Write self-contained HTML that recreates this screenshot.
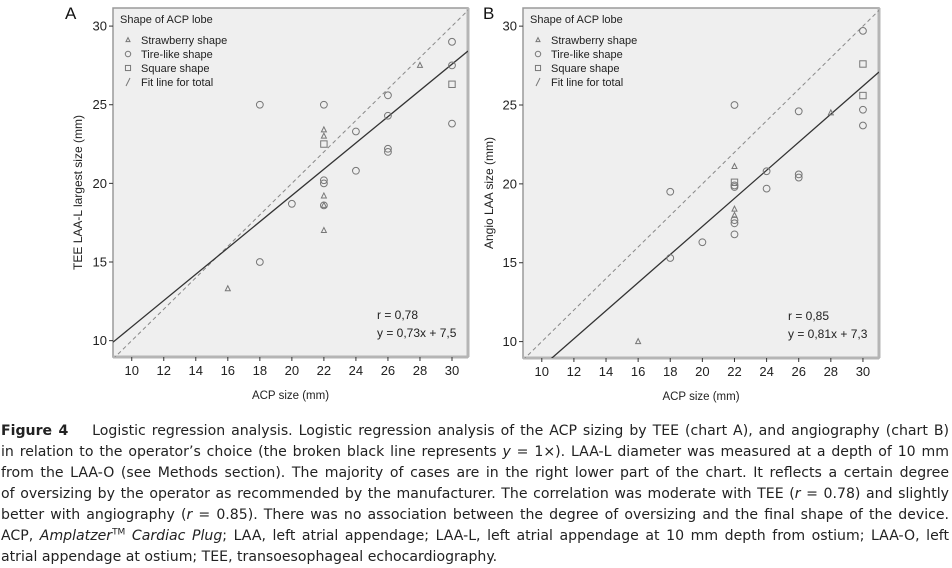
<!DOCTYPE html>
<html><head><meta charset="utf-8"><style>
body{margin:0;background:#fff;width:952px;height:566px;overflow:hidden;position:relative;font-family:"Liberation Sans",sans-serif}
svg{position:absolute;left:0;top:0;font-family:"Liberation Sans",Arial,sans-serif}
#cap{position:absolute;left:1px;top:421px;width:948px;font-family:"DejaVu Sans",sans-serif;font-size:14.1px;color:#222;line-height:21px}
#cap div{text-align:justify;text-align-last:justify;white-space:nowrap;height:21px}
#cap div.last{text-align-last:left}
</style></head><body>
<svg id="chart" width="952" height="410"></svg>
<div id="cap">
<div><b>Figure 4</b>&nbsp;&nbsp;&nbsp; Logistic regression analysis. Logistic regression analysis of the ACP sizing by TEE (chart A), and angiography (chart B)</div>
<div>in relation to the operator’s choice (the broken black line represents <i>y</i> = 1×). LAA-L diameter was measured at a depth of 10 mm</div>
<div>from the LAA-O (see Methods section). The majority of cases are in the right lower part of the chart. It reflects a certain degree</div>
<div>of oversizing by the operator as recommended by the manufacturer. The correlation was moderate with TEE (<i>r</i> = 0.78) and slightly</div>
<div>better with angiography (<i>r</i> = 0.85). There was no association between the degree of oversizing and the final shape of the device.</div>
<div>ACP, <i>Amplatzer</i><sup style="font-size:9px;line-height:0">TM</sup> <i>Cardiac Plug</i>; LAA, left atrial appendage; LAA-L, left atrial appendage at 10 mm depth from ostium; LAA-O, left</div>
<div class="last">atrial appendage at ostium; TEE, transoesophageal echocardiography.</div>
</div>
<script>
const xTicks=[10,12,14,16,18,20,22,24,26,28,30];
const yTicks=[10,15,20,25,30];
const aX=[16,18,18,20,22,22,22,22,22,22,22,22,22,22,24,24,26,26,26,26,28,30,30,30,30];
const aY=[13.3,25,15,18.7,25,23.4,23.0,22.5,20.2,20.0,19.2,18.6,18.6,17.0,23.3,20.8,25.6,24.3,22.2,22.0,27.5,29,27.5,26.3,23.8];
const aS=["t","c","c","c","c","t","t","s","c","c","t","c","t","t","c","c","c","c","c","c","t","c","c","s","c"];
const bX=[16,18,18,20,22,22,22,22,22,22,22,22,22,22,24,24,26,26,26,28,30,30,30,30,30];
const bY=[10,19.5,15.3,16.3,25,21.1,20.1,19.9,19.8,18.4,18.0,17.7,17.5,16.8,20.8,19.7,24.6,20.6,20.4,24.5,29.7,27.6,25.6,24.7,23.7];
const bS=["t","c","c","c","c","t","s","c","c","t","t","c","c","c","c","c","c","c","c","t","c","s","s","c","c"];
const fitA=[0.835,2.53];
const fitB=[0.89,-0.5];
const NS="http://www.w3.org/2000/svg";
const svg=document.getElementById('chart');
function mk(t,a,p){const e=document.createElementNS(NS,t);for(const k in a)e.setAttribute(k,a[k]);(p||svg).appendChild(e);return e;}
function sym(g,s,cx,cy,sc){let e;
  if(s==='c')e=mk('circle',{cx:cx,cy:cy,r:3.4*sc,fill:'none',stroke:'#777','stroke-width':1},g);
  else if(s==='s')e=mk('rect',{x:cx-3.2*sc,y:cy-3.2*sc,width:6.4*sc,height:6.4*sc,fill:'none',stroke:'#777','stroke-width':1},g);
  else if(s==='t')e=mk('polygon',{points:`${cx},${cy-3*sc} ${cx-2.5*sc},${cy+2*sc} ${cx+2.5*sc},${cy+2*sc}`,fill:'none',stroke:'#777','stroke-width':1},g);
  else e=mk('line',{x1:cx-2,y1:cy+4,x2:cx+2,y2:cy-4,stroke:'#777','stroke-width':1},g);
  return e;}
function panel(o){
  const g=mk('g',{});
  
  
  const x0=8.83,x1=31.0,y0=8.96,y1=31.15;
  const sx=v=>o.L+(v-x0)/(x1-x0)*(o.R-o.L);
  const sy=v=>o.B-(v-y0)/(y1-y0)*(o.B-o.T);
  const bg=mk('rect',{x:o.L,y:o.T,width:o.R-o.L,height:o.B-o.T,fill:'#efefef',stroke:'#9a9a9a','stroke-width':1.5},g);
  
  
  mk('line',{x1:o.R,y1:o.T,x2:o.R,y2:o.B,stroke:'#b5b5b5','stroke-width':3},g);
  mk('line',{x1:o.L,y1:o.B,x2:o.R,y2:o.B,stroke:'#b5b5b5','stroke-width':3},g);
  xTicks.forEach(v=>{mk('line',{x1:sx(v),y1:o.B,x2:sx(v),y2:o.B+4,stroke:'#333'},g);
    const t=mk('text',{x:sx(v),y:o.B+18,'text-anchor':'middle','font-size':13,fill:'#222'},g);t.textContent=v;
    });
  yTicks.forEach(v=>{mk('line',{x1:o.L-4,y1:sy(v),x2:o.L,y2:sy(v),stroke:'#333'},g);
    const t=mk('text',{x:o.L-6,y:sy(v)+4.5,'text-anchor':'end','font-size':13,fill:'#222'},g);t.textContent=v;
    });
  const cp=mk('clipPath',{id:'cp'+o.id},g);mk('rect',{x:o.L,y:o.T,width:o.R-o.L,height:o.B-o.T},cp);
  const dl=mk('line',{x1:sx(x0),y1:sy(x0),x2:sx(y1),y2:sy(y1),stroke:'#888','stroke-width':1,'stroke-dasharray':'4,3','clip-path':'url(#cp'+o.id+')'},g);
  
  const f=o.fit;
  const fl=mk('line',{x1:sx(x0),y1:sy(f[0]*x0+f[1]),x2:sx(x1),y2:sy(f[0]*x1+f[1]),stroke:'#333','stroke-width':1.3,'clip-path':'url(#cp'+o.id+')'},g);
  
  o.xs.forEach((xv,i)=>{const e=sym(g,o.ss[i],sx(xv),sy(o.ys[i]),1);
    });
  const lx=o.L+7;
  const lt=mk('text',{x:lx,y:o.T+15,'font-size':11,fill:'#222'},g);lt.textContent='Shape of ACP lobe';
  
  const items=['Strawberry shape','Tire-like shape','Square shape','Fit line for total'];
  const syms=['t','c','s','l'];
  items.forEach((s,i)=>{const y=o.T+36+i*14;
    sym(g,syms[i],lx+8,y-4,0.8);
    const t=mk('text',{x:lx+21,y:y,'font-size':11,fill:'#222'},g);t.textContent=s;
    });
  const r1=mk('text',{x:o.R-91,y:o.B-38,'font-size':12,fill:'#222'},g);r1.textContent=o.r;
  
  const r2=mk('text',{x:o.R-91,y:o.B-20,'font-size':12,fill:'#222'},g);r2.textContent=o.eq;
  
  const xt=mk('text',{x:(o.L+o.R)/2,y:o.B+42,'text-anchor':'middle','font-size':11.5,fill:'#222'},g);xt.textContent='ACP size (mm)';
  
  const yy=(o.T+o.B)/2+10;
  const yt=mk('text',{x:o.yx,y:yy,'text-anchor':'middle','font-size':12,fill:'#222',transform:`rotate(-90 ${o.yx} ${yy})`},g);yt.textContent=o.yl;
  
  const pl=mk('text',{x:o.px,y:19,'font-size':17,fill:'#111'},g);pl.textContent=o.id;
  
}
panel({id:'A',L:113,R:468,T:8,B:357,xs:aX,ys:aY,ss:aS,fit:fitA,r:'r = 0,78',eq:'y = 0,73x + 7,5',yl:'TEE LAA-L largest size (mm)',yx:82,px:65});
panel({id:'B',L:523,R:879,T:8,B:358,xs:bX,ys:bY,ss:bS,fit:fitB,r:'r = 0,85',eq:'y = 0,81x + 7,3',yl:'Angio LAA size (mm)',yx:493,px:483});
</script>
</body></html>
